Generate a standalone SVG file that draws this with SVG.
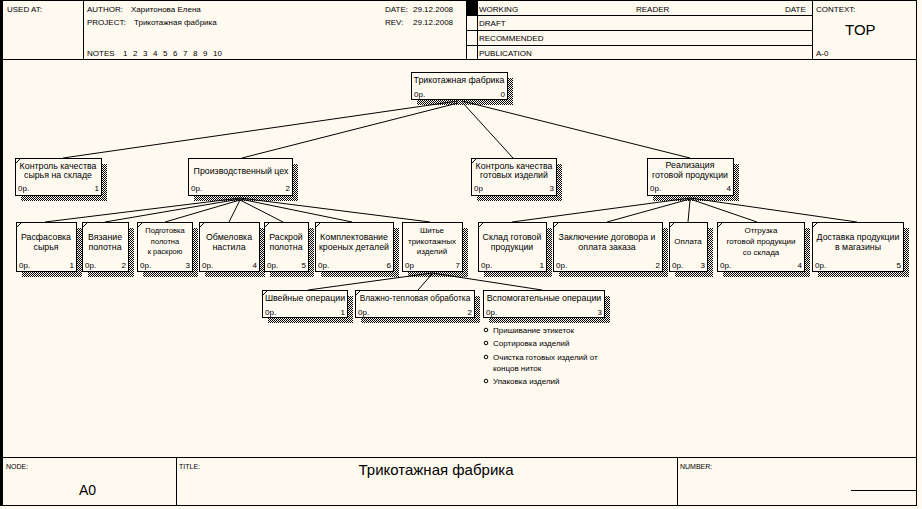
<svg xmlns="http://www.w3.org/2000/svg" width="922" height="509" viewBox="0 0 922 509">
<defs>
<pattern id="hatch" width="2" height="2" patternUnits="userSpaceOnUse">
<rect x="0" y="0" width="1" height="1" fill="#000"/>
<rect x="1" y="1" width="1" height="1" fill="#000"/>
</pattern>
<style>
text{font-family:"Liberation Sans",Arial,sans-serif;fill:#000}
.f{fill:none;stroke:#000;stroke-width:1}
.h{font-size:8px}
.big{font-size:15px}
.t{font-size:8.8px;text-anchor:middle}
.ts{font-size:8px;text-anchor:middle}
.c{font-size:8px}
.n{font-size:8px;text-anchor:end}
.sh{fill:url(#hatch)}
.bx{fill:#fffaf0;stroke:#000;stroke-width:1}
.dg{stroke:#000;stroke-width:1}
.cn line{stroke:#000;stroke-width:1}
.bl{fill:none;stroke:#000;stroke-width:1}
</style>
</defs>
<rect x="0" y="0" width="922" height="509" fill="#fffaf0"/>

<g id="frame">
<rect class="f" x="1.5" y="0.5" width="915" height="505"/>
<line x1="1.5" y1="0" x2="1.5" y2="506" stroke="#000" stroke-width="3"/>
<line class="f" x1="1" y1="59.5" x2="917" y2="59.5"/>
<line class="f" x1="83.5" y1="0" x2="83.5" y2="60"/>
<line class="f" x1="466.5" y1="0" x2="466.5" y2="60"/>
<rect x="466" y="0.5" width="11" height="15" fill="#000"/>
<line class="f" x1="477.5" y1="0" x2="477.5" y2="60"/>
<line class="f" x1="466" y1="15.5" x2="813" y2="15.5"/>
<line class="f" x1="466" y1="30.5" x2="813" y2="30.5"/>
<line class="f" x1="466" y1="45.5" x2="813" y2="45.5"/>
<line class="f" x1="812.5" y1="0" x2="812.5" y2="60"/>
<text class="h" x="7" y="12">USED AT:</text>
<text class="h" x="87" y="12">AUTHOR:</text>
<text class="h" x="131" y="12">Харитонова Елена</text>
<text class="h" x="87" y="25">PROJECT:</text>
<text class="h" x="134" y="25">Трикотажная фабрика</text>
<text class="h" x="87" y="56">NOTES</text>
<text class="h" x="123" y="56">1</text>
<text class="h" x="133" y="56">2</text>
<text class="h" x="143" y="56">3</text>
<text class="h" x="153" y="56">4</text>
<text class="h" x="163" y="56">5</text>
<text class="h" x="173" y="56">6</text>
<text class="h" x="183" y="56">7</text>
<text class="h" x="193" y="56">8</text>
<text class="h" x="203" y="56">9</text>
<text class="h" x="213" y="56">10</text>
<text class="h" x="385" y="12">DATE:</text>
<text class="h" x="413" y="12">29.12.2008</text>
<text class="h" x="385" y="25">REV:</text>
<text class="h" x="413" y="25">29.12.2008</text>
<text class="h" x="479" y="12">WORKING</text>
<text class="h" x="636" y="12">READER</text>
<text class="h" x="785" y="12">DATE</text>
<text class="h" x="479" y="26">DRAFT</text>
<text class="h" x="479" y="41">RECOMMENDED</text>
<text class="h" x="479" y="56">PUBLICATION</text>
<text class="h" x="816" y="12">CONTEXT:</text>
<text x="845" y="35" style="font-size:15px">TOP</text>
<text class="h" x="816" y="56">A-0</text>
<line class="f" x1="1" y1="457.5" x2="917" y2="457.5"/>
<line class="f" x1="176.5" y1="457" x2="176.5" y2="506"/>
<line class="f" x1="677.5" y1="457" x2="677.5" y2="506"/>
<line class="f" x1="851" y1="490.5" x2="917" y2="490.5"/>
<text x="6" y="469" style="font-size:7px">NODE:</text>
<text x="79" y="495" style="font-size:14px">A0</text>
<text x="179" y="469" style="font-size:7px">TITLE:</text>
<text x="436" y="475" class="big" text-anchor="middle">Трикотажная фабрика</text>
<text x="680" y="469" style="font-size:7px">NUMBER:</text>
</g>

<g id="connectors" class="cn">
<line x1="458" y1="101" x2="63" y2="158"/>
<line x1="458" y1="103" x2="242" y2="158"/>
<line x1="462" y1="102" x2="513" y2="158"/>
<line x1="462" y1="101" x2="690" y2="158"/>
<line x1="240" y1="198" x2="45" y2="222"/>
<line x1="240" y1="199" x2="105" y2="222"/>
<line x1="240" y1="200" x2="165" y2="222"/>
<line x1="240" y1="200" x2="229" y2="222"/>
<line x1="240" y1="200" x2="283" y2="222"/>
<line x1="240" y1="199" x2="352" y2="222"/>
<line x1="240" y1="198" x2="430" y2="222"/>
<line x1="690" y1="198" x2="512" y2="222"/>
<line x1="690" y1="199" x2="607" y2="222"/>
<line x1="690" y1="200" x2="688" y2="222"/>
<line x1="690" y1="199" x2="757" y2="222"/>
<line x1="690" y1="198" x2="857" y2="222"/>
<line x1="432" y1="273" x2="308" y2="290"/>
<line x1="432" y1="274" x2="418" y2="290"/>
<line x1="432" y1="273" x2="542" y2="290"/>
</g>

<g id="n0">
<rect class="sh" x="417" y="78" width="96" height="27"/>
<rect class="bx" x="411.5" y="72.5" width="96" height="27"/>
<text class="t" x="459" y="83">Трикотажная фабрика</text>
<text class="c" x="414" y="97">0р.</text>
<text class="n" x="505" y="97">0</text>
</g>

<g id="n1">
<rect class="sh" x="21" y="164" width="86" height="37"/>
<rect class="bx" x="15.5" y="158.5" width="86" height="37"/>
<line class="dg" x1="16" y1="163" x2="20" y2="159"/>
<text class="t" x="58" y="169">Контроль качества</text>
<text class="t" x="58" y="178">сырья на складе</text>
<text class="c" x="18" y="191">0р.</text>
<text class="n" x="99" y="191">1</text>
</g>

<g id="n2">
<rect class="sh" x="194" y="164" width="104" height="37"/>
<rect class="bx" x="188.5" y="158.5" width="104" height="37"/>
<text class="t" x="241" y="174">Производственный цех</text>
<text class="c" x="191" y="191">0р.</text>
<text class="n" x="290" y="191">2</text>
</g>

<g id="n3">
<rect class="sh" x="477" y="164" width="85" height="37"/>
<rect class="bx" x="471.5" y="158.5" width="85" height="37"/>
<line class="dg" x1="472" y1="163" x2="476" y2="159"/>
<text class="t" x="514" y="169">Контроль качества</text>
<text class="t" x="514" y="178">готовых изделий</text>
<text class="c" x="474" y="191">0р</text>
<text class="n" x="554" y="191">3</text>
</g>

<g id="n4">
<rect class="sh" x="653" y="164" width="86" height="37"/>
<rect class="bx" x="647.5" y="158.5" width="86" height="37"/>
<text class="t" x="690" y="168">Реализация</text>
<text class="t" x="690" y="178">готовой продукции</text>
<text class="c" x="650" y="191">0р.</text>
<text class="n" x="731" y="191">4</text>
</g>

<g id="n21">
<rect class="sh" x="22" y="228" width="60" height="49"/>
<rect class="bx" x="16.5" y="222.5" width="60" height="49"/>
<line class="dg" x1="17" y1="227" x2="21" y2="223"/>
<text class="t" x="46" y="240">Расфасовка</text>
<text class="t" x="46" y="250">сырья</text>
<text class="c" x="19" y="268">0р.</text>
<text class="n" x="74" y="268">1</text>
</g>

<g id="n22">
<rect class="sh" x="88" y="228" width="46" height="49"/>
<rect class="bx" x="82.5" y="222.5" width="46" height="49"/>
<line class="dg" x1="83" y1="227" x2="87" y2="223"/>
<text class="t" x="105" y="240">Вязание</text>
<text class="t" x="105" y="250">полотна</text>
<text class="c" x="85" y="268">0р.</text>
<text class="n" x="126" y="268">2</text>
</g>

<g id="n23">
<rect class="sh" x="143" y="228" width="55" height="49"/>
<rect class="bx" x="137.5" y="222.5" width="55" height="49"/>
<line class="dg" x1="138" y1="227" x2="142" y2="223"/>
<text class="ts" x="165" y="233" style="font-size:7.5px">Подготовка</text>
<text class="ts" x="165" y="244" style="font-size:7.5px">полотна</text>
<text class="ts" x="165" y="254" style="font-size:7.5px">к раскрою</text>
<text class="c" x="140" y="268">0р.</text>
<text class="n" x="190" y="268">3</text>
</g>

<g id="n24">
<rect class="sh" x="205" y="228" width="60" height="49"/>
<rect class="bx" x="199.5" y="222.5" width="60" height="49"/>
<line class="dg" x1="200" y1="227" x2="204" y2="223"/>
<text class="t" x="229" y="240">Обмеловка</text>
<text class="t" x="229" y="250">настила</text>
<text class="c" x="202" y="268">0р.</text>
<text class="n" x="257" y="268">4</text>
</g>

<g id="n25">
<rect class="sh" x="270" y="228" width="44" height="49"/>
<rect class="bx" x="264.5" y="222.5" width="44" height="49"/>
<line class="dg" x1="265" y1="227" x2="269" y2="223"/>
<text class="t" x="286" y="240">Раскрой</text>
<text class="t" x="286" y="250">полотна</text>
<text class="c" x="267" y="268">0р.</text>
<text class="n" x="306" y="268">5</text>
</g>

<g id="n26">
<rect class="sh" x="321" y="228" width="78" height="49"/>
<rect class="bx" x="315.5" y="222.5" width="78" height="49"/>
<line class="dg" x1="316" y1="227" x2="320" y2="223"/>
<text class="t" x="354" y="240">Комплектование</text>
<text class="t" x="354" y="250">кроеных деталей</text>
<text class="c" x="318" y="268">0р.</text>
<text class="n" x="391" y="268">6</text>
</g>

<g id="n27">
<rect class="sh" x="408" y="228" width="60" height="49"/>
<rect class="bx" x="402.5" y="222.5" width="60" height="49"/>
<text class="ts" x="432" y="233">Шитье</text>
<text class="ts" x="432" y="244">трикотажных</text>
<text class="ts" x="432" y="254">изделий</text>
<text class="c" x="405" y="268">0р</text>
<text class="n" x="460" y="268">7</text>
</g>

<g id="n41">
<rect class="sh" x="484" y="228" width="68" height="49"/>
<rect class="bx" x="478.5" y="222.5" width="68" height="49"/>
<line class="dg" x1="479" y1="227" x2="483" y2="223"/>
<text class="t" x="512" y="240">Склад готовой</text>
<text class="t" x="512" y="250">продукции</text>
<text class="c" x="481" y="268">0р.</text>
<text class="n" x="544" y="268">1</text>
</g>

<g id="n42">
<rect class="sh" x="559" y="228" width="109" height="49"/>
<rect class="bx" x="553.5" y="222.5" width="109" height="49"/>
<line class="dg" x1="554" y1="227" x2="558" y2="223"/>
<text class="t" x="607" y="240">Заключение договора и</text>
<text class="t" x="607" y="250">оплата заказа</text>
<text class="c" x="556" y="268">0р.</text>
<text class="n" x="660" y="268">2</text>
</g>

<g id="n43">
<rect class="sh" x="675" y="228" width="38" height="49"/>
<rect class="bx" x="669.5" y="222.5" width="38" height="49"/>
<line class="dg" x1="670" y1="227" x2="674" y2="223"/>
<text class="ts" x="688" y="244">Оплата</text>
<text class="c" x="672" y="268">0р.</text>
<text class="n" x="705" y="268">3</text>
</g>

<g id="n44">
<rect class="sh" x="723" y="228" width="87" height="49"/>
<rect class="bx" x="717.5" y="222.5" width="87" height="49"/>
<line class="dg" x1="718" y1="227" x2="722" y2="223"/>
<text class="ts" x="761" y="233">Отгрузка</text>
<text class="ts" x="761" y="244">готовой продукции</text>
<text class="ts" x="761" y="255">со склада</text>
<text class="c" x="720" y="268">0р.</text>
<text class="n" x="802" y="268">4</text>
</g>

<g id="n45">
<rect class="sh" x="818" y="228" width="91" height="49"/>
<rect class="bx" x="812.5" y="222.5" width="91" height="49"/>
<line class="dg" x1="813" y1="227" x2="817" y2="223"/>
<text class="t" x="858" y="240">Доставка продукции</text>
<text class="t" x="858" y="250">в магазины</text>
<text class="c" x="815" y="268">0р.</text>
<text class="n" x="901" y="268">5</text>
</g>

<g id="n71">
<rect class="sh" x="268" y="296" width="85" height="27"/>
<rect class="bx" x="262.5" y="290.5" width="85" height="27"/>
<line class="dg" x1="263" y1="295" x2="267" y2="291"/>
<text class="t" x="305" y="301">Швейные операции</text>
<text class="c" x="265" y="315">0р.</text>
<text class="n" x="345" y="315">1</text>
</g>

<g id="n72">
<rect class="sh" x="361" y="296" width="119" height="27"/>
<rect class="bx" x="355.5" y="290.5" width="119" height="27"/>
<line class="dg" x1="356" y1="295" x2="360" y2="291"/>
<text class="t" x="415" y="301" style="font-size:8.3px">Влажно-тепловая обработка</text>
<text class="c" x="358" y="315">0р.</text>
<text class="n" x="472" y="315">2</text>
</g>

<g id="n73">
<rect class="sh" x="489" y="296" width="121" height="27"/>
<rect class="bx" x="483.5" y="290.5" width="121" height="27"/>
<text class="t" x="544" y="301">Вспомогательные операции</text>
<text class="c" x="486" y="315">0р.</text>
<text class="n" x="602" y="315">3</text>
</g>

<g id="list">
<circle class="bl" cx="486" cy="330" r="1.8"/>
<text class="c" x="493" y="333">Пришивание этикеток</text>
<circle class="bl" cx="486" cy="343" r="1.8"/>
<text class="c" x="493" y="346">Сортировка изделий</text>
<circle class="bl" cx="486" cy="357" r="1.8"/>
<text class="c" x="493" y="360">Очистка готовых изделий от</text>
<text class="c" x="493" y="371">концов ниток</text>
<circle class="bl" cx="486" cy="381" r="1.8"/>
<text class="c" x="493" y="384">Упаковка изделий</text>
</g>
</svg>
